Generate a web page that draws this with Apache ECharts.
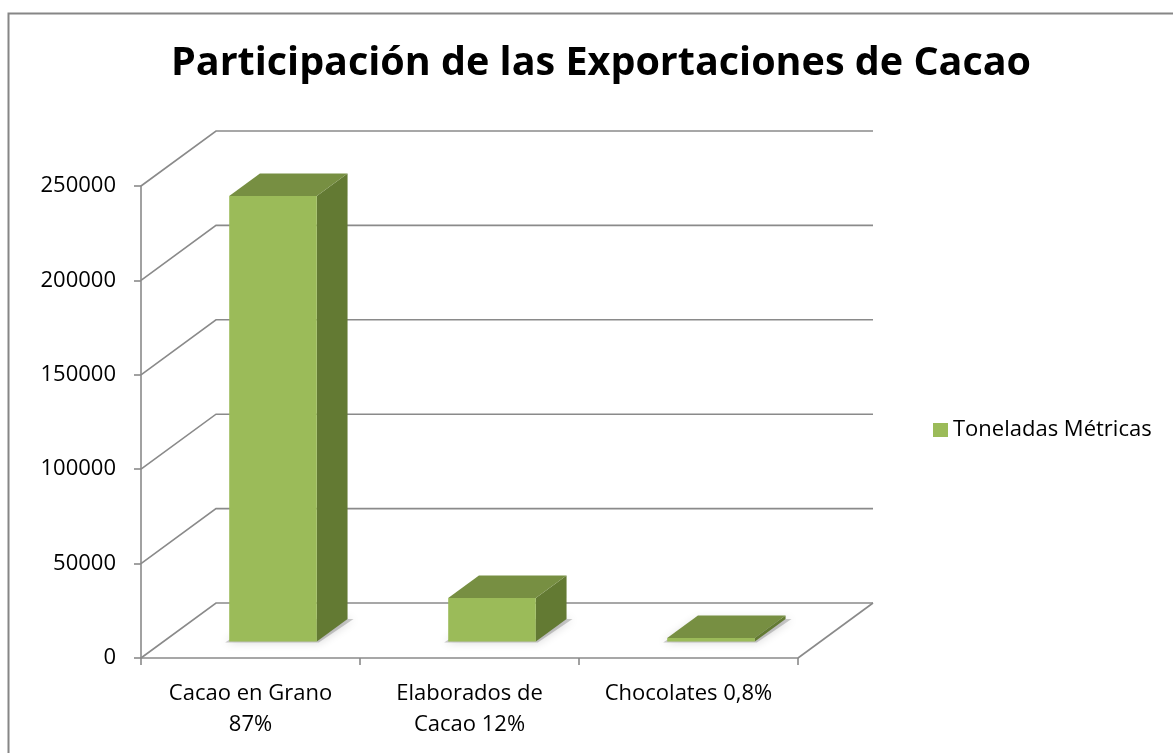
<!DOCTYPE html>
<html>
<head>
<meta charset="utf-8">
<script src="https://cdn.jsdelivr.net/npm/echarts@6/dist/echarts.min.js"></script>
<style>
html,body{margin:0;padding:0;background:#fff;}
#chart{width:1173px;height:753px;}
</style>
</head>
<body>
<div id="chart"></div>
<script>
var titleText = 'Participación de las Exportaciones de Cacao';
var categories = ['Cacao en Grano\n87%', 'Elaborados de\nCacao 12%', 'Chocolates 0,8%'];
var seriesName = 'Toneladas Métricas';
var values = [236000, 23000, 1800];
var yTicks = [0, 50000, 100000, 150000, 200000, 250000];

var DX = 75, DY = -55;      // depth offset of the back wall
var F0 = 0.30, F1 = 0.71;   // bar depth (front, back) as fraction of the floor depth
var BAR_W = 0.40;           // bar width as fraction of category band
var GRID_COLOR = '#8a8a8a';
var FONT = 'Open Sans';

var chart = echarts.init(document.getElementById('chart'), null, {renderer: 'canvas'});

function wallItem(params, api) {
  var v = api.value(1);
  var bw = api.size([1, 0])[0];
  var first = api.coord([0, v]);
  var last = api.coord([categories.length - 1, v]);
  var xl = first[0] - bw / 2, xr = last[0] + bw / 2, y = first[1];
  var children = [{
    type: 'polyline',
    shape: {points: [[xl, y], [xl + DX, y + DY], [xr + DX, y + DY]]},
    style: {stroke: GRID_COLOR, lineWidth: 1.6, fill: null}
  }];
  if (v === 0) {
    children.push({
      type: 'line',
      shape: {x1: xr, y1: y, x2: xr + DX, y2: y + DY},
      style: {stroke: GRID_COLOR, lineWidth: 1.6}
    });
  }
  return {type: 'group', children: children};
}

function barItem(params, api) {
  var i = api.value(0), v = api.value(1);
  var top = api.coord([i, v]);
  var base = api.coord([i, 0]);
  var bw = api.size([1, 0])[0];
  var w = bw * BAR_W;
  var ox = F0 * DX, oy = F0 * DY;
  var dx = (F1 - F0) * DX, dy = (F1 - F0) * DY;
  var xl = top[0] - w / 2 + ox, xr = top[0] + w / 2 + ox;
  var yt = top[1] + oy, yb = base[1] + oy;
  if (yb - yt < 1.5) yt = yb - 1.5;
  return {
    type: 'group',
    children: [
      {
        type: 'polygon',
        shape: {points: [[xl - 4, yb + 1], [xr + 2, yb + 1], [xr + dx + 6, yb + dy], [xl + dx, yb + dy]]},
        style: {fill: 'rgba(110,110,110,0.35)', shadowBlur: 10, shadowColor: 'rgba(0,0,0,0.45)'}
      },
      {
        type: 'polygon',
        shape: {points: [[xr, yt], [xr + dx, yt + dy], [xr + dx, yb + dy], [xr, yb]]},
        style: {fill: '#637a33'}
      },
      {
        type: 'polygon',
        shape: {points: [[xl, yt], [xr, yt], [xr + dx, yt + dy], [xl + dx, yt + dy]]},
        style: {fill: '#778f42'}
      },
      {
        type: 'rect',
        shape: {x: xl, y: yt, width: xr - xl, height: yb - yt},
        style: {fill: '#9bbb59'}
      }
    ]
  };
}

var option = {
  backgroundColor: '#ffffff',
  animation: false,
  title: {
    text: titleText,
    left: 596,
    top: 39,
    textAlign: 'center',
    textStyle: {fontFamily: FONT, fontWeight: 'bold', fontSize: 39.5, color: '#000'}
  },
  legend: {
    left: 928,
    top: 414,
    itemWidth: 15,
    itemHeight: 14,
    itemGap: 10,
    data: [{name: seriesName, icon: 'rect'}],
    textStyle: {fontFamily: FONT, fontSize: 22, color: '#000', padding: [0, 0, 0, 0]}
  },
  grid: {left: 141, top: 186, width: 657, height: 472, containLabel: false},
  xAxis: {
    type: 'category',
    data: categories,
    boundaryGap: true,
    axisLine: {show: true, lineStyle: {color: GRID_COLOR, width: 1.6}},
    axisTick: {show: true, length: 7, alignWithLabel: false, lineStyle: {color: GRID_COLOR, width: 1.6}},
    axisLabel: {fontFamily: FONT, fontSize: 22, color: '#000', lineHeight: 31, margin: 20, interval: 0}
  },
  yAxis: {
    type: 'value',
    min: 0,
    max: 250000,
    interval: 50000,
    axisLine: {show: true, lineStyle: {color: GRID_COLOR, width: 1.6}},
    axisTick: {show: true, length: 7, inside: false, lineStyle: {color: GRID_COLOR, width: 1.6}},
    splitLine: {show: false},
    axisLabel: {fontFamily: FONT, fontSize: 22, color: '#000', margin: 25, padding: [6, 0, 0, 0],
      formatter: function (v) { return String(v); }}
  },
  graphic: [{
    type: 'rect',
    shape: {x: 8.5, y: 13.5, width: 1300, height: 900},
    style: {fill: null, stroke: '#868686', lineWidth: 2},
    z: 100
  }],
  series: [
    {
      type: 'custom',
      name: 'walls',
      renderItem: wallItem,
      data: yTicks.map(function (t) { return [0, t]; }),
      encode: {x: 0, y: 1},
      silent: true,
      z: 1
    },
    {
      type: 'custom',
      name: seriesName,
      renderItem: barItem,
      itemStyle: {color: '#9bbb59'},
      data: values.map(function (v, i) { return [i, v]; }),
      encode: {x: 0, y: 1},
      z: 2
    }
  ]
};
chart.setOption(option);
</script>
</body>
</html>
